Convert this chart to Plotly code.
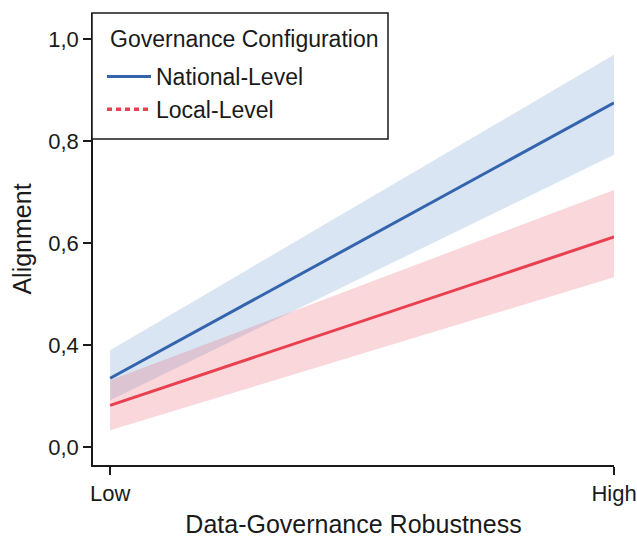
import plotly.graph_objects as go

# Data
x_levels = [0, 1]
x_labels = ["Low", "High"]
national_fit = [0.335, 0.875]
national_upper = [0.390, 0.969]
national_lower = [0.292, 0.773]
local_fit = [0.282, 0.612]
local_upper = [0.331, 0.704]
local_lower = [0.233, 0.533]
y_tickvals = [0.2, 0.4, 0.6, 0.8, 1.0]
y_ticktext = ["0,0", "0,4", "0,6", "0,8", "1,0"]

BLUE = "#3464ad"
RED = "#e8404f"
INK = "#1a1a1a"
FONT = "Liberation Sans, Arial, Helvetica, sans-serif"

fig = go.Figure()

# Bands
fig.add_trace(go.Scatter(
    x=x_levels + x_levels[::-1], y=national_upper + national_lower[::-1],
    fill="toself", fillcolor="rgba(130,170,215,0.30)", line=dict(width=0),
    hoverinfo="skip", showlegend=False, mode="lines"))
fig.add_trace(go.Scatter(
    x=x_levels + x_levels[::-1], y=local_upper + local_lower[::-1],
    fill="toself", fillcolor="rgba(232,110,125,0.28)", line=dict(width=0),
    hoverinfo="skip", showlegend=False, mode="lines"))

# Lines
fig.add_trace(go.Scatter(x=x_levels, y=national_fit, mode="lines",
                         line=dict(color=BLUE, width=3), name="National-Level",
                         legendgroup="nat"))
fig.add_trace(go.Scatter(x=x_levels, y=local_fit, mode="lines",
                         line=dict(color=RED, width=3), name="Local-Level",
                         showlegend=False))
# Legend entry for local (dotted in legend)
fig.add_trace(go.Scatter(x=[None], y=[None], mode="lines",
                         line=dict(color=RED, width=3.5, dash="5px,4px"), name="Local-Level",
                         legendgroup="loc"))

# Plot area in pixels: left 93, right 614, top 13, bottom 465
def px_x(p):
    return (p - 93) / 521.0

def px_y(p):
    return (465 - p) / 452.0

fig.add_shape(type="rect", xref="paper", yref="paper",
              x0=px_x(92), x1=px_x(388), y0=px_y(139), y1=px_y(13),
              line=dict(color=INK, width=1.5), fillcolor="white", layer="above")

fig.add_annotation(text="Governance Configuration", xref="paper", yref="paper",
                   x=px_x(108), y=px_y(39), xanchor="left", yanchor="middle",
                   showarrow=False, font=dict(size=23, color=INK))

fig.update_layout(
    width=637, height=538,
    margin=dict(l=93, r=23, t=13, b=73),
    plot_bgcolor="white", paper_bgcolor="white",
    font=dict(family=FONT, color=INK, size=22),
    legend=dict(
        x=px_x(102), y=px_y(55), xanchor="left", yanchor="top",
        bgcolor="rgba(0,0,0,0)", borderwidth=0,
        font=dict(size=23), tracegroupgap=0, itemwidth=44,
    ),
    xaxis=dict(
        range=[-0.034, 1.0], tickvals=x_levels, ticktext=x_labels,
        showline=True, linecolor=INK, linewidth=1.5,
        ticks="outside", ticklen=8, tickcolor=INK, tickwidth=1.5,
        showgrid=False, zeroline=False, automargin=False,
        tickfont=dict(size=22),
        title=dict(text="Data-Governance Robustness", font=dict(size=25), standoff=10),
    ),
    yaxis=dict(
        range=[0.165, 1.051], tickvals=y_tickvals, ticktext=y_ticktext,
        showline=True, linecolor=INK, linewidth=1.5,
        ticks="outside", ticklen=8, tickcolor=INK, tickwidth=1.5,
        showgrid=False, zeroline=False, automargin=False,
        tickfont=dict(size=22),
        title=dict(text="Alignment", font=dict(size=25), standoff=10),
    ),
)

fig.write_html("out.html", config={"displayModeBar": False},
               post_script="document.body.style.margin='0';document.body.style.overflow='hidden';")
